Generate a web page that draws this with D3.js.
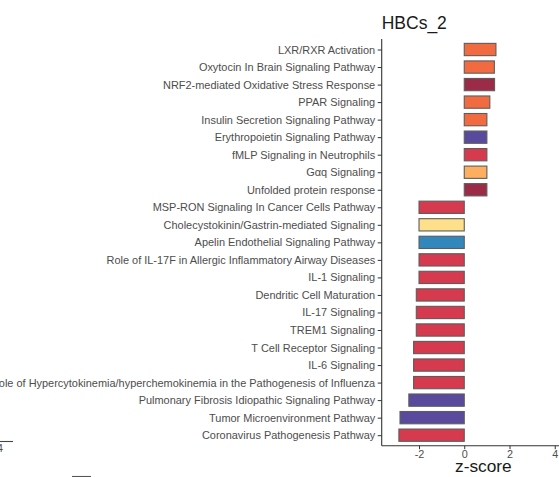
<!DOCTYPE html>
<html><head><meta charset="utf-8">
<script src="https://cdn.jsdelivr.net/npm/d3@7"></script>
<style>
html,body{margin:0;padding:0;background:#fff;}
svg{display:block;}
text{font-family:"Liberation Sans",Arial,Helvetica,sans-serif;}
</style></head>
<body>
<svg id="chart" width="559" height="477"></svg>
<script>
const title = "HBCs_2";
const xLabel = "z-score";
const categories = [
  "LXR/RXR Activation",
  "Oxytocin In Brain Signaling Pathway",
  "NRF2-mediated Oxidative Stress Response",
  "PPAR Signaling",
  "Insulin Secretion Signaling Pathway",
  "Erythropoietin Signaling Pathway",
  "fMLP Signaling in Neutrophils",
  "Gαq Signaling",
  "Unfolded protein response",
  "MSP-RON Signaling In Cancer Cells Pathway",
  "Cholecystokinin/Gastrin-mediated Signaling",
  "Apelin Endothelial Signaling Pathway",
  "Role of IL-17F in Allergic Inflammatory Airway Diseases",
  "IL-1 Signaling",
  "Dendritic Cell Maturation",
  "IL-17 Signaling",
  "TREM1 Signaling",
  "T Cell Receptor Signaling",
  "IL-6 Signaling",
  "Role of Hypercytokinemia/hyperchemokinemia in the Pathogenesis of Influenza",
  "Pulmonary Fibrosis Idiopathic Signaling Pathway",
  "Tumor Microenvironment Pathway",
  "Coronavirus Pathogenesis Pathway"
];
const zScores = [1.40, 1.33, 1.34, 1.13, 1.00, 1.00, 1.00, 1.00, 1.00,
  -2.00, -2.00, -2.00, -2.00, -2.00, -2.12, -2.12, -2.12, -2.24, -2.24, -2.24,
  -2.45, -2.84, -2.89];
const barColors = ["#F26B40", "#F26B40", "#9C2B48", "#F26B40", "#F26B40", "#5A4A9E",
  "#D63A4E", "#FDAE61", "#9C2B48",
  "#D63A4E", "#FEE08B", "#3288BD", "#D63A4E", "#D63A4E", "#D63A4E", "#D63A4E",
  "#D63A4E", "#D63A4E", "#D63A4E", "#D63A4E", "#5A4A9E", "#5A4A9E", "#D63A4E"];
const xTicks = [-2, 0, 2, 4];

const svg = d3.select("#chart");
const axisLeftX = 381.7, axisTop = 39, axisBottom = 445.7;

const x = d3.scaleLinear().domain([-3.65, 4.5]).range([axisLeftX, axisLeftX + 8.15 * 22.62]);
const y = d3.scalePoint().domain(categories).range([axisTop, axisBottom]).padding(0.6);
const barH = y.step() * 0.7;

// bars
svg.append("g").selectAll("rect").data(categories).join("rect")
  .attr("x", (d, i) => x(Math.min(0, zScores[i])))
  .attr("width", (d, i) => Math.abs(x(zScores[i]) - x(0)))
  .attr("y", d => y(d) - barH / 2)
  .attr("height", barH)
  .attr("fill", (d, i) => barColors[i])
  .attr("stroke", "#5c5c5c")
  .attr("stroke-width", 1.1);

// y axis
const yAxis = svg.append("g").attr("transform", `translate(${axisLeftX},0)`)
  .call(d3.axisLeft(y).tickSize(4).tickPadding(2.5));
yAxis.select(".domain").attr("stroke", "#333").attr("stroke-width", 1.1)
  .attr("d", `M0,${axisTop}V${axisBottom}`);
yAxis.selectAll(".tick line").attr("stroke", "#333");
yAxis.selectAll(".tick text").attr("fill", "#4d4d4d").style("font-size", "10.95px")
  .style("font-family", '"Liberation Sans",Arial,sans-serif');

// x axis
const xAxis = svg.append("g").attr("transform", `translate(0,${axisBottom})`)
  .call(d3.axisBottom(x).tickValues(xTicks).tickSize(3.5).tickPadding(1.5).tickFormat(d3.format("d")));
xAxis.select(".domain").attr("stroke", "#333").attr("stroke-width", 1.1)
  .attr("d", `M${axisLeftX},0H${x(4.5)}`);
xAxis.selectAll(".tick line").attr("stroke", "#333");
xAxis.selectAll(".tick text").attr("fill", "#4d4d4d").style("font-size", "10.8px")
  .style("font-family", '"Liberation Sans",Arial,sans-serif')
  .text(d => d < 0 ? "-" + Math.abs(d) : String(d));

// title
svg.append("text").attr("x", axisLeftX).attr("y", 29.3)
  .attr("fill", "#1a1a1a").style("font-size", "17.5px").text(title);

// x label
svg.append("text").attr("x", (x(-2) + x(4)) / 2 - 3.5).attr("y", 472.3)
  .attr("text-anchor", "middle").attr("fill", "#1a1a1a").style("font-size", "17.3px").text(xLabel);

// fragments of neighbouring panels
svg.append("line").attr("x1", 0).attr("x2", 13).attr("y1", 441.5).attr("y2", 441.5)
  .attr("stroke", "#444").attr("stroke-width", 1.1);
svg.append("text").attr("x", 0).attr("y", 451.5).attr("text-anchor", "middle")
  .attr("fill", "#4d4d4d").style("font-size", "10.7px").text("4");
svg.append("line").attr("x1", 72).attr("x2", 91).attr("y1", 476.5).attr("y2", 476.5)
  .attr("stroke", "#555").attr("stroke-width", 1.1);
</script>
</body></html>
